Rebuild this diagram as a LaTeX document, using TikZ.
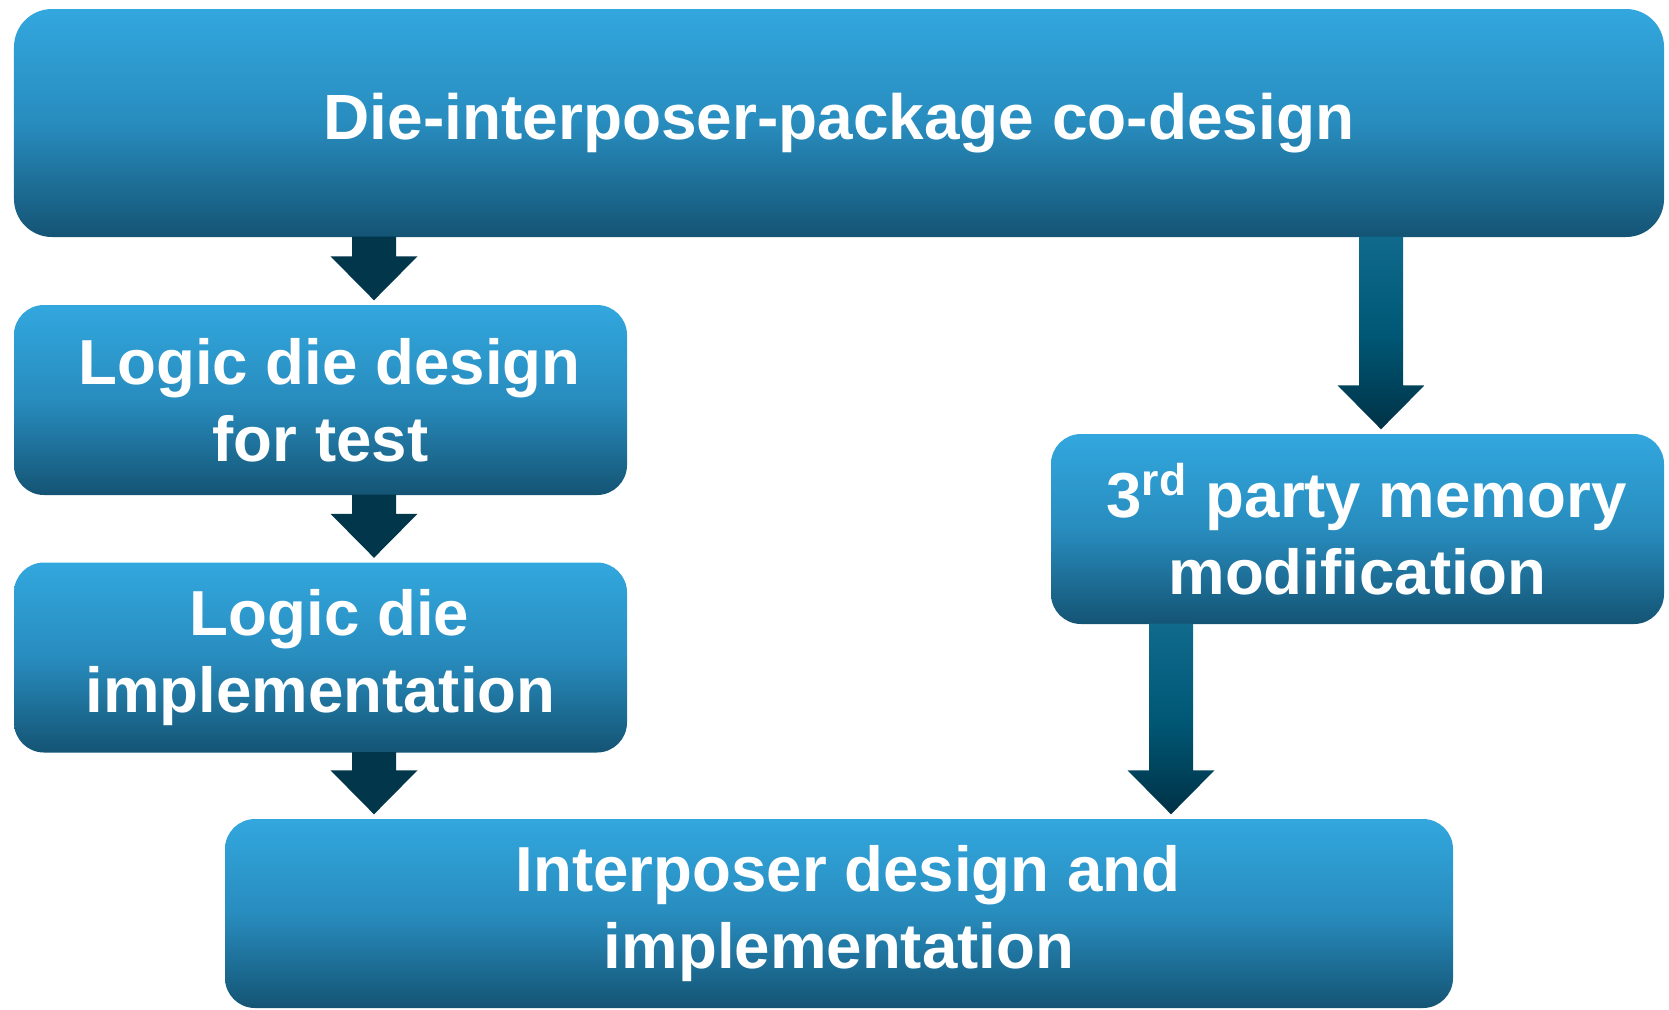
\documentclass[tikz,border=0pt]{standalone}
\usepackage{fontspec}
\newfontfamily\boxfont{Liberation Sans}
\usetikzlibrary{calc}

\definecolor{boxtop}{RGB}{50,167,222}
\definecolor{boxmid}{RGB}{40,140,190}
\definecolor{boxbot}{RGB}{20,84,116}
\definecolor{arrowdark}{RGB}{2,54,74}
\definecolor{arrowtop}{RGB}{16,106,140}
\definecolor{arrowmid}{RGB}{0,88,118}
\definecolor{arrowbot}{RGB}{0,50,70}

\tikzset{
    flowbox/.style={rounded corners=0.3cm, top color=boxtop, bottom color=boxbot, middle color=boxmid,
        text=white, align=center, inner sep=0pt, minimum width=6.13cm, minimum height=1.9cm,
        font=\boxfont\bfseries\fontsize{18.1pt}{22pt}\selectfont},
    shortarrow/.style={fill=arrowdark},
    longarrow/.style={top color=arrowtop, bottom color=arrowbot, middle color=arrowmid},
}

% block arrow: style, from node, to node, x of the shaft
\newcommand{\blockarrow}[4]{
    \coordinate (ba-s) at ($(#4,0 |- #2.south)+(0,0.01)$);
    \coordinate (ba-t) at ($(#4,0 |- #3.north)+(0,0.04)$);
    \path[#1] ($(ba-s)+(-0.22,0)$) -- ($(ba-t)+(-0.22,0.44)$) -- ($(ba-t)+(-0.435,0.44)$) -- (ba-t)
        -- ($(ba-t)+(0.435,0.44)$) -- ($(ba-t)+(0.22,0.44)$) -- ($(ba-s)+(0.22,0)$) -- cycle;
}
% first lines sit a little right of centre
\newcommand{\lead}{\hspace*{0.18cm}}

\begin{document}
\begin{tikzpicture}
    \useasboundingbox (0,0) rectangle (16.69,10.09);

    \node[flowbox, rounded corners=0.38cm, minimum width=16.5cm, minimum height=2.28cm,
        font=\boxfont\bfseries\fontsize{18.2pt}{22pt}\selectfont] (codesign) at (8.39,8.86) {Die-interposer-package co-design};

    \node[flowbox] (dft) at (3.205,6.09) {\lead Logic die design\\for test};
    \node[flowbox] (impl) at (3.205,3.515) {\lead Logic die\\implementation};
    \node[flowbox] (memory) at (13.575,4.80) {\lead 3\textsuperscript{rd} party memory\\modification};
    \node[flowbox, minimum width=12.28cm, minimum height=1.89cm] (interposer) at (8.39,0.955) {\lead Interposer design and\\implementation};

    % left column
    \blockarrow{shortarrow}{codesign}{dft}{3.74}
    \blockarrow{shortarrow}{dft}{impl}{3.74}
    \blockarrow{shortarrow}{impl}{interposer}{3.74}

    % right column
    \blockarrow{longarrow}{codesign}{memory}{13.81}
    \blockarrow{longarrow}{memory}{interposer}{11.71}
\end{tikzpicture}
\end{document}
